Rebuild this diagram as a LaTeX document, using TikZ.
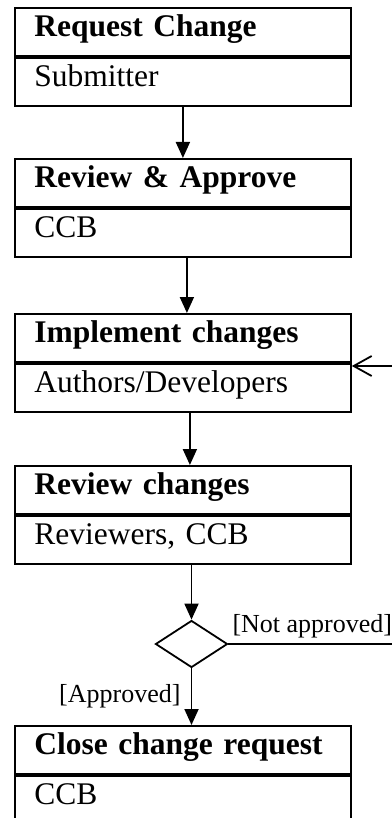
\documentclass[tikz,border=0pt]{standalone}
\usepackage{fontspec}
\setmainfont{Liberation Serif}
\usetikzlibrary{arrows.meta,shapes.geometric}
\tikzset{
  part/.style={draw, line width=1.8pt, anchor=north west, minimum width=336pt, minimum height=48pt,
    text width=297pt, inner xsep=19.5pt, inner ysep=0pt, align=left, text height=18pt, text depth=8pt},
  titlepart/.style={part, font=\fontsize{31.5}{36}\selectfont\bfseries},
  rolepart/.style={part, font=\fontsize{31.5}{36}\selectfont},
  flow/.style={line width=1.8pt, -{Triangle[length=16pt,width=14pt]}},
  decision/.style={draw, diamond, line width=1.8pt, minimum width=72pt, minimum height=47pt, inner sep=0pt},
  guard/.style={font=\fontsize{26}{30}\selectfont}
}
\begin{document}
\begin{tikzpicture}[x=1pt,y=-1pt]
\useasboundingbox (0,0) rectangle (391,818);
\node[titlepart] (r1t) at (14,7) {Request Change};
\node[rolepart] (r1b) at (r1t.south west) {Submitter};
\node[titlepart] (r2t) at (14,158) {Review \& Approve};
\node[rolepart] (r2b) at (r2t.south west) {CCB};
\node[titlepart] (r3t) at (14,313) {Implement changes};
\node[rolepart] (r3b) at (r3t.south west) {Authors/Developers};
\node[titlepart] (r4t) at (14,465) {Review changes};
\node[rolepart] (r4b) at (r4t.south west) {Reviewers, CCB};
\node[titlepart] (r5t) at (14,725) {Close change request};
\node[rolepart, minimum height=70pt, text height=18pt, text depth=30pt] (r5b) at (r5t.south west) {CCB};
\node[decision] (d) at (191.5,644) {};
\coordinate (loopout) at (393,644);
\coordinate (loopin) at (393,366);

\draw[flow] (r1b.south) -- (r1b.south |- r2t.north);
\draw[flow] ([xshift=4pt]r2b.south) -- ([xshift=4pt]r3t.north);
\draw[flow] ([xshift=7pt]r3b.south) -- ([xshift=7pt]r4t.north);
\draw[flow] (d.north |- r4b.south) -- (d.north);
\draw[flow] (d.south) -- (d.south |- r5t.north);
\draw[line width=1.8pt] (d.east) -- (loopout);
\draw[line width=1.8pt, -{Straight Barb[length=18pt,width=20pt,line width=1.8pt]}] (loopin) -- (loopin -| r3b.east);
\node[guard, anchor=base west] (na) at (229,632) {[Not approved]};
\node[guard, anchor=base east] (ap) at (184,702) {[Approved]};
\end{tikzpicture}
\end{document}
